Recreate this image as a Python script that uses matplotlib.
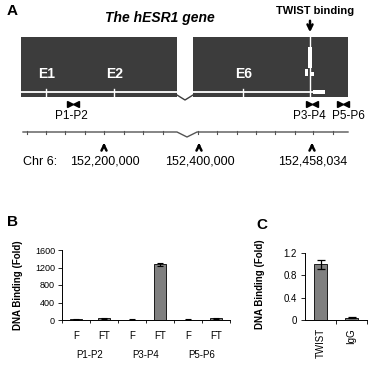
import matplotlib.pyplot as plt
import numpy as np

plt.rcParams['font.family'] = ['Liberation Sans', 'DejaVu Sans']

# panel A text
gene_title = "The hESR1 gene"
exon_labels = ["E1", "E2", "E6"]
primer_labels = ["P1-P2", "P3-P4", "P5-P6"]
chrom_labels = ["152,200,000", "152,400,000", "152,458,034"]

# panel B
b_ticks = ["F", "FT", "F", "FT", "F", "FT"]
b_groups = ["P1-P2", "P3-P4", "P5-P6"]
b_values = [15, 35, 10, 1270, 10, 35]
b_errors = [5, 8, 4, 35, 4, 8]

# panel C
c_ticks = ["TWIST", "IgG"]
c_values = [1.0, 0.04]
c_errors = [0.08, 0.012]

dark = '#3c3c3c'
bar_grey = '#808080'

fig = plt.figure(figsize=(3.72, 3.65), dpi=100)

# ---- panel A drawn in pixel space
ax = fig.add_axes([0, 0, 1, 1])
ax.set_xlim(0, 372)
ax.set_ylim(365, 0)
ax.axis('off')

ax.text(7, 11, "A", fontsize=11, fontweight='bold', va='center')
ax.text(160, 18, gene_title, fontsize=10, fontweight='bold', style='italic',
        ha='center', va='center')

# gene boxes
ax.add_patch(plt.Rectangle((21, 37), 156, 60, color=dark, lw=0))
ax.add_patch(plt.Rectangle((193, 37), 155, 60, color=dark, lw=0))
# gap dip
ax.plot([177, 185, 193], [95, 100, 95], color=dark, lw=1)
# gene line
ax.plot([21, 177], [92, 92], color='white', lw=1.3)
ax.plot([193, 314], [92, 92], color='white', lw=1.3)
ax.add_patch(plt.Rectangle((313, 89.5), 12, 4, color='white', lw=0))
for x, lab in zip([46, 114, 243], exon_labels):
    ax.plot([x, x], [89, 96], color='white', lw=1)
    ax.text(x + 1, 74, lab, color='white', fontsize=10, fontweight='bold',
            ha='center', va='center')
# binding site
ax.plot([309.5, 309.5], [37, 97], color='white', lw=1)
ax.add_patch(plt.Rectangle((308, 47), 4, 21, color='white', lw=0))
ax.add_patch(plt.Rectangle((305, 69), 3, 7, color='white', lw=0))
ax.add_patch(plt.Rectangle((311, 72), 2.5, 4, color='white', lw=0))

ax.text(315, 11, "TWIST binding", fontsize=8, fontweight='bold',
        ha='center', va='center')
ax.annotate("", xy=(310, 35), xytext=(310, 18),
            arrowprops=dict(arrowstyle='->', lw=1.8, color='black',
                            mutation_scale=9))

# primers
for x, lx, lab in zip([73, 312, 343], [71, 309, 348], primer_labels):
    ax.plot([x - 3], [104], marker='>', color='black', ms=4, lw=0)
    ax.plot([x + 3], [104], marker='<', color='black', ms=4, lw=0)
    ax.text(lx, 116, lab, fontsize=8.5, ha='center', va='center')

# chromosome line
ax.plot([23, 177, 187, 197, 348], [132, 132, 137, 132, 132], color='#555555', lw=1)
for x in [27, 46, 65, 85, 104, 124, 143, 163, 198, 217, 237, 256, 275, 295, 313, 333]:
    ax.plot([x, x], [131, 133.5], color='#555555', lw=0.8)
for x, lab in zip([104, 199, 312], chrom_labels):
    ax.annotate("", xy=(x, 140), xytext=(x, 150),
                arrowprops=dict(arrowstyle='->', lw=1.8, color='black',
                                mutation_scale=9))
    ax.text(x + 1, 162, lab, fontsize=9, ha='center', va='center')
ax.text(23, 162, "Chr 6:", fontsize=9, ha='left', va='center')

ax.text(7, 222, "B", fontsize=11, fontweight='bold', va='center')
ax.text(256, 225, "C", fontsize=11, fontweight='bold', va='center')

# ---- panel B
axb = fig.add_axes([62 / 372, 45 / 365, 168 / 372, 70 / 365])
xb = np.arange(len(b_values))
axb.bar(xb, b_values, width=0.45, color=bar_grey, edgecolor='black', lw=0.6,
        yerr=b_errors, capsize=2, error_kw=dict(lw=0.8, capthick=0.8))
axb.set_xlim(-0.5, 5.5)
axb.set_ylim(0, 1600)
axb.set_yticks([0, 400, 800, 1200, 1600])
axb.tick_params(axis='y', labelsize=6.5, length=3, width=0.6, pad=2)
axb.set_xticks(xb)
axb.set_xticklabels(b_ticks, fontsize=7)
axb.tick_params(axis='x', length=0, pad=8)
axb.set_xticks(np.arange(-0.5, 6, 1), minor=True)
axb.tick_params(axis='x', which='minor', length=2, width=0.6)
for s in ['top', 'right']:
    axb.spines[s].set_visible(False)
for s in ['left', 'bottom']:
    axb.spines[s].set_linewidth(0.7)
for i, g in enumerate(b_groups):
    axb.text(2 * i + 0.5, -0.5, g, fontsize=7, ha='center', va='center',
             transform=axb.get_xaxis_transform())
axb.set_ylabel("DNA Binding (Fold)", fontsize=7, fontweight='bold')
axb.yaxis.set_label_coords(-0.232, 0.5)

# ---- panel C
axc = fig.add_axes([305 / 372, 45 / 365, 62 / 372, 67 / 365])
xc = np.arange(len(c_values))
axc.bar(xc, c_values, width=0.45, color=bar_grey, edgecolor='black', lw=0.6,
        yerr=c_errors, capsize=3, error_kw=dict(lw=0.9, capthick=0.9))
axc.set_xlim(-0.5, 1.5)
axc.set_ylim(0, 1.2)
axc.set_yticks([0, 0.4, 0.8, 1.2])
axc.set_yticklabels(["0", "0.4", "0.8", "1.2"])
axc.tick_params(axis='y', labelsize=7, length=3, width=0.6, pad=3)
axc.set_xticks(xc)
axc.set_xticklabels(c_ticks, fontsize=7, rotation=90)
axc.tick_params(axis='x', length=0, pad=6)
axc.set_xticks([0.5, 1.5], minor=True)
axc.tick_params(axis='x', which='minor', length=3, width=0.6)
for s in ['top', 'right']:
    axc.spines[s].set_visible(False)
for s in ['left', 'bottom']:
    axc.spines[s].set_linewidth(0.7)
axc.set_ylabel("DNA Binding (Fold)", fontsize=7, fontweight='bold')
axc.yaxis.set_label_coords(-0.645, 0.54)

fig.savefig("out.png", dpi=100)
